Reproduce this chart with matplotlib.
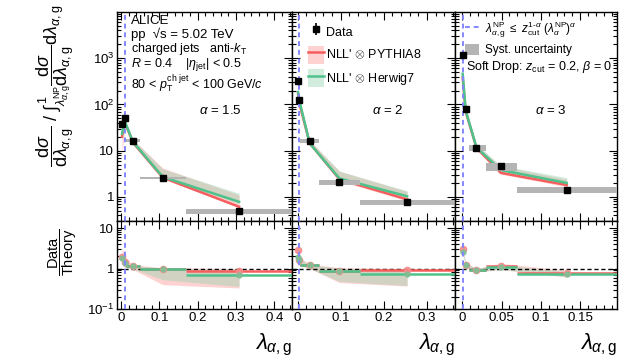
import numpy as np
import matplotlib
matplotlib.use('Agg')
import matplotlib.pyplot as plt
from matplotlib.ticker import FixedLocator, FixedFormatter, MultipleLocator, LogLocator, NullFormatter
from matplotlib.lines import Line2D
from matplotlib.patches import Patch

plt.rcParams['font.family'] = ['Liberation Sans', 'DejaVu Sans']
plt.rcParams['mathtext.fontset'] = 'custom'
plt.rcParams['mathtext.rm'] = 'Liberation Sans'
plt.rcParams['mathtext.it'] = 'Liberation Sans:italic'
plt.rcParams['mathtext.bf'] = 'Liberation Sans:bold'

# --- data ---
alphas = ['1.5', '2', '3']
xlims = [(-0.0105, 0.446), (-0.013, 0.365), (-0.0093, 0.197)]
lam_np = [0.0104, 0.0039, 0.00054]

bins_15 = [0, 0.005, 0.013, 0.05, 0.17, 0.446]
x_15 = [0.0026, 0.0094, 0.031, 0.109, 0.308]
data_15 = [38, 50, 16.4, 2.57, 0.49]
stat_15 = [0.05, 0.04, 0.03, 0.03, 0.06]
syst_15 = [0.15, 0.10, 0.08, 0.06, 0.13]
py_15 = [20, 42, 15, 2.6, 0.61]
py_lo_15 = [7, 35, 13.5, 2.5, 0.58]
py_hi_15 = [26, 48, 17.5, 4.2, 1.1]
hw_15 = [23, 44, 15.5, 2.7, 0.78]
hw_lo_15 = [20, 40, 14.5, 2.6, 0.72]
hw_hi_15 = [27, 47, 17.5, 4.0, 1.2]
rpy_15 = [1.9, 1.42, 1.15, 0.97, 0.87]
rpy_lo_15 = [1.2, 1.1, 0.95, 0.40, 0.33]
rpy_hi_15 = [3.5, 1.9, 1.25, 1.05, 1.0]
rhw_15 = [1.8, 1.35, 1.15, 0.99, 0.68]
rhw_lo_15 = [1.4, 1.1, 0.98, 0.53, 0.36]
rhw_hi_15 = [2.0, 1.5, 1.2, 1.02, 0.98]

bins_2 = [0, 0.002, 0.006, 0.05, 0.145, 0.365]
x_2 = [0.001, 0.004, 0.028, 0.097, 0.254]
data_2 = [320, 124, 15.9, 2.1, 0.76]
stat_2 = [0.04, 0.04, 0.03, 0.04, 0.07]
syst_2 = [0.10, 0.08, 0.10, 0.12, 0.14]
py_2 = [170, 105, 14.5, 2.4, 0.88]
py_lo_2 = [140, 95, 13.5, 2.2, 0.82]
py_hi_2 = [200, 125, 16.5, 3.6, 1.3]
hw_2 = [185, 122, 14.4, 2.5, 1.03]
hw_lo_2 = [170, 115, 13.5, 2.3, 0.95]
hw_hi_2 = [200, 135, 16.5, 3.6, 1.35]
rpy_2 = [2.9, 1.65, 1.2, 0.87, 0.9]
rpy_lo_2 = [1.5, 1.2, 1.0, 0.45, 0.37]
rpy_hi_2 = [3.2, 1.9, 1.3, 1.05, 1.0]
rhw_2 = [1.9, 1.6, 1.2, 0.85, 0.75]
rhw_lo_2 = [1.6, 1.2, 1.0, 0.48, 0.38]
rhw_hi_2 = [2.2, 1.8, 1.25, 1.02, 0.98]

bins_3 = [0, 0.001, 0.008, 0.03, 0.07, 0.197]
x_3 = [0.0005, 0.0043, 0.018, 0.049, 0.133]
data_3 = [1150, 79, 11.4, 4.6, 1.4]
stat_3 = [0.03, 0.04, 0.04, 0.05, 0.07]
syst_3 = [0.10, 0.10, 0.14, 0.20, 0.14]
py_3 = [380, 70, 11.5, 3.3, 1.8]
py_lo_3 = [330, 62, 10.5, 3.1, 1.65]
py_hi_3 = [430, 80, 13, 4.6, 2.4]
hw_3 = [460, 74, 11.8, 3.8, 2.0]
hw_lo_3 = [420, 66, 11, 3.4, 1.85]
hw_hi_3 = [520, 82, 13.5, 4.8, 2.6]
rpy_3 = [3.0, 1.26, 0.9, 1.16, 0.78]
rpy_lo_3 = [2.6, 1.1, 0.82, 0.95, 0.62]
rpy_hi_3 = [3.3, 1.4, 1.0, 1.35, 0.9]
rhw_3 = [2.55, 1.26, 0.92, 1.08, 0.72]
rhw_lo_3 = [2.3, 1.1, 0.82, 0.95, 0.62]
rhw_hi_3 = [2.8, 1.4, 1.0, 1.25, 0.85]

panels = [
    (bins_15, x_15, data_15, stat_15, syst_15, py_15, py_lo_15, py_hi_15, hw_15, hw_lo_15, hw_hi_15,
     rpy_15, rpy_lo_15, rpy_hi_15, rhw_15, rhw_lo_15, rhw_hi_15),
    (bins_2, x_2, data_2, stat_2, syst_2, py_2, py_lo_2, py_hi_2, hw_2, hw_lo_2, hw_hi_2,
     rpy_2, rpy_lo_2, rpy_hi_2, rhw_2, rhw_lo_2, rhw_hi_2),
    (bins_3, x_3, data_3, stat_3, syst_3, py_3, py_lo_3, py_hi_3, hw_3, hw_lo_3, hw_hi_3,
     rpy_3, rpy_lo_3, rpy_hi_3, rhw_3, rhw_lo_3, rhw_hi_3),
]

red = '#f65e5e'
green = '#4fc28c'
pink_band = '#ff9c9c'
green_band = '#8fd3ae'
gray = '#b4b4b4'
blue = '#8585ff'

fig = plt.figure(figsize=(6.3, 3.61), dpi=100)
W, H = 630.0, 361.0
xs = [(117, 292), (292, 455), (455, 617)]
top_y = (12, 221)
bot_y = (221, 309)

for i, (x0, x1) in enumerate(xs):
    axt = fig.add_axes([x0 / W, 1 - top_y[1] / H, (x1 - x0) / W, (top_y[1] - top_y[0]) / H])
    axb = fig.add_axes([x0 / W, 1 - bot_y[1] / H, (x1 - x0) / W, (bot_y[1] - bot_y[0]) / H])
    (bins, x, data, stat, syst, py, py_lo, py_hi, hw, hw_lo, hw_hi,
     rpy, rpy_lo, rpy_hi, rhw, rhw_lo, rhw_hi) = panels[i]
    bins = np.array(bins); x = np.array(x); data = np.array(data)

    # top: spectra
    axt.fill_between(x, py_lo, py_hi, color=pink_band, alpha=0.45, lw=0)
    axt.fill_between(x, hw_lo, hw_hi, color=green_band, alpha=0.4, lw=0)
    axt.plot(x, py, color=red, lw=1.8)
    axt.plot(x, hw, color=green, lw=1.8)
    lo = data * (1 - np.array(syst)); hi = data * (1 + np.array(syst))
    axt.bar(bins[:-1], hi - lo, width=np.diff(bins), bottom=lo, align='edge', color=gray, lw=0, zorder=3)
    axt.errorbar(x, data, yerr=data * np.array(stat), fmt='s', color='black', ms=4.5, lw=1.2,
                 capsize=0, zorder=5)
    axt.axvline(lam_np[i], color=blue, ls=(0, (2.5, 2)), lw=1.4, zorder=4)
    axt.set_yscale('log')
    axt.set_ylim(0.3, 1e4)
    axt.set_xlim(*xlims[i])

    # bottom: ratios
    axb.fill_between(x, rpy_lo, rpy_hi, color=pink_band, alpha=0.45, lw=0)
    axb.fill_between(x, rhw_lo, rhw_hi, color=green_band, alpha=0.4, lw=0)
    axb.axhline(1, color='black', ls=(0, (3, 2)), lw=1, zorder=2)
    axb.hlines(rpy, bins[:-1], bins[1:], color=red, lw=1.8, zorder=3)
    axb.hlines(rhw, bins[:-1], bins[1:], color=green, lw=1.8, zorder=3)
    axb.errorbar(x, rpy, yerr=np.array(rpy) * 0.05, fmt='o', color='#f88a8a', ms=4.5, lw=1,
                 capsize=0, zorder=4, alpha=0.9)
    axb.errorbar(x, rhw, yerr=np.array(rhw) * 0.05, fmt='o', color='#7fbf95', ms=3.5, lw=1,
                 capsize=0, zorder=4, alpha=0.9)
    axb.axvline(lam_np[i], color=blue, ls=(0, (2.5, 2)), lw=1.4, zorder=5)
    axb.set_yscale('log')
    axb.set_ylim(0.1, 15)
    axb.set_xlim(*xlims[i])

    for ax in (axt, axb):
        ax.tick_params(which='both', direction='in', top=True, right=True, labelsize=9.5, pad=2)
        ax.tick_params(which='major', length=6, width=0.8)
        ax.tick_params(which='minor', length=3, width=0.8)
        ax.yaxis.set_minor_locator(LogLocator(base=10, subs=np.arange(2, 10)))
        ax.yaxis.set_minor_formatter(NullFormatter())
        for s in ax.spines.values():
            s.set_linewidth(1.0)
        if i == 2:
            ax.xaxis.set_major_locator(MultipleLocator(0.05))
            ax.xaxis.set_minor_locator(MultipleLocator(0.01))
        else:
            ax.xaxis.set_major_locator(MultipleLocator(0.1))
            ax.xaxis.set_minor_locator(MultipleLocator(0.02))
    axt.set_xticklabels([])
    axt.yaxis.set_major_locator(FixedLocator([1, 10, 100, 1000]))
    axb.yaxis.set_major_locator(FixedLocator([0.1, 1, 10]))
    if i == 0:
        axt.yaxis.set_major_formatter(FixedFormatter(['1', '10', r'$10^2$', r'$10^3$']))
        axb.yaxis.set_major_formatter(FixedFormatter([r'$10^{-1}$', '1', '10']))
    else:
        axt.set_yticklabels([])
        axb.set_yticklabels([])
    if i == 2:
        axb.set_xticks([0, 0.05, 0.1, 0.15])
        axb.set_xticklabels(['0', '0.05', '0.1', '0.15'])
    elif i == 1:
        axb.set_xticks([0, 0.1, 0.2, 0.3])
        axb.set_xticklabels(['0', '0.1', '0.2', '0.3'])
    else:
        axb.set_xticks([0, 0.1, 0.2, 0.3, 0.4])
        axb.set_xticklabels(['0', '0.1', '0.2', '0.3', '0.4'])

    axt.text(0.59, 0.53, r'$\alpha$ = ' + alphas[i], transform=axt.transAxes,
             ha='center', va='center', fontsize=9.5)
    fig.text(x1 / W, 1 - 345 / H, r'$\lambda_{\alpha,\mathrm{g}}$', ha='right', va='center', fontsize=16)

    if i == 0:
        lines = ['ALICE',
                 'pp  √s = 5.02 TeV',
                 r'charged jets   anti-$k_{\mathrm{T}}$',
                 r'$R$ = 0.4    |$\eta_{\mathrm{jet}}$| < 0.5',
                 r'80 < $p_{\mathrm{T}}^{\mathrm{ch\ jet}}$ < 100 GeV/$c$']
        ys = [0.957, 0.892, 0.824, 0.750, 0.655]
        sizes = [9.5, 9.5, 9, 9, 9]
        for t, yy, fs in zip(lines, ys, sizes):
            axt.text(0.08, yy, t, transform=axt.transAxes, ha='left', va='center', fontsize=fs)
    if i == 1:
        h_data = axt.errorbar([], [], yerr=[], fmt='s', color='black', ms=4.5, lw=1.2)
        h_py = (Patch(color=pink_band, alpha=0.45, lw=0), Line2D([], [], color=red, lw=1.8))
        h_hw = (Patch(color=green_band, alpha=0.4, lw=0), Line2D([], [], color=green, lw=1.8))
        axt.legend([h_data, h_py, h_hw],
                   ['Data', r"NLL' $\otimes$ PYTHIA8", r"NLL' $\otimes$ Herwig7"],
                   loc='upper left', bbox_to_anchor=(0.05, 0.985), frameon=False, fontsize=9,
                   handlelength=1.3, handleheight=1.8, labelspacing=0.45, handletextpad=0.2,
                   borderaxespad=0.2)
    if i == 2:
        h_np = Line2D([], [], color=blue, ls=(0, (2.5, 2)), lw=1.4)
        h_sys = Patch(color=gray, lw=0)
        axt.legend([h_np, h_sys],
                   [r'$\lambda_{\alpha,\mathrm{g}}^{\mathrm{NP}}\ \leq\ z_{\mathrm{cut}}^{1\text{-}\alpha}\ (\lambda_{\alpha}^{\mathrm{NP}})^{\alpha}$',
                    'Syst. uncertainty'],
                   loc='upper left', bbox_to_anchor=(0.02, 1.0), frameon=False, fontsize=8.5,
                   handlelength=1.2, handleheight=1.1, labelspacing=0.35, handletextpad=0.5,
                   borderaxespad=0.2)
        axt.text(0.065, 0.735, r'Soft Drop: $z_{\mathrm{cut}}$ = 0.2, $\beta$ = 0', transform=axt.transAxes,
                 ha='left', va='center', fontsize=9)

fig.text(0.088, 1 - 167 / H,
         r'$\dfrac{\mathrm{d}\sigma}{\mathrm{d}\lambda_{\alpha,\mathrm{g}}}$ / '
         r'$\int_{\lambda^{\mathrm{NP}}_{\alpha,\mathrm{g}}}^{1}\dfrac{\mathrm{d}\sigma}{\mathrm{d}\lambda_{\alpha,\mathrm{g}}}\mathrm{d}\lambda_{\alpha,\mathrm{g}}$',
         rotation=90, ha='center', va='bottom', fontsize=13)
fig.text(0.099, 1 - 252 / H, r'$\dfrac{\mathrm{Data}}{\mathrm{Theory}}$', rotation=90,
         ha='center', va='center', fontsize=10.5)

fig.savefig('out.png', dpi=100)
